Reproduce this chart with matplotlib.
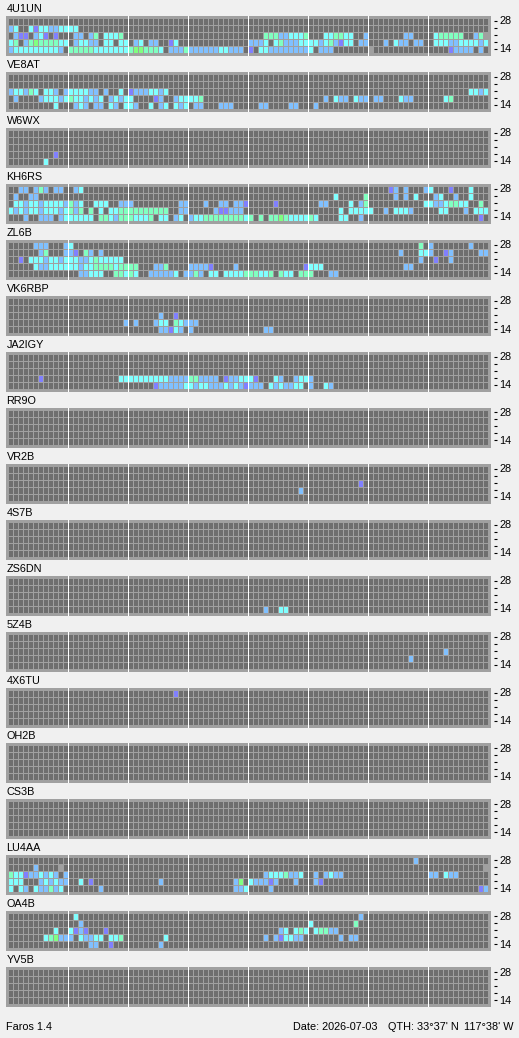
import matplotlib
matplotlib.use("Agg")
import matplotlib.pyplot as plt

# beacon stations, top to bottom
stations = ["4U1UN", "VE8AT", "W6WX", "KH6RS", "ZL6B", "VK6RBP", "JA2IGY", "RR9O", "VR2B",
            "4S7B", "ZS6DN", "5Z4B", "4X6TU", "OH2B", "CS3B", "LU4AA", "OA4B", "YV5B"]
band_labels = ["28", "", "", "", "14"]   # rows: 28, 24, 21, 18, 14 MHz

# 96 quarter-hour slots per row, grouped in 3 hour blocks
# . none  b/c/g/G/p signal levels  x no data
EMPTY = "............ ............ ............ ............ ............ ............ ............ ............"

u1un = [
    EMPTY,
    "bc..cpccbbcc cc.......... ............ ............ ............ ............ ............ ............",
    ".bpp.bcp.p.. .bb.bg.cccg ............ ............ ....gggbbccc g...ccggcc.. b.......bb.. ..cggggg..bg",
    "cg.bgGggggcc .bccbb.cc.cc .bc.bb..pc.. ............ bbbc.cgbbbcc ccbcgbpcc.bb ...b.cbb.bb. .cccbbccccbc",
    "bcccccccccb. gggggccccccc gGGgggc.bbbg bbbbbbccbbb. p.ccbbbbbbbb c.bbb....... x........... ....pbbbb.b.",
]
ve8at = [
    EMPTY,
    EMPTY,
    "bccbgc.ccb.b ccccbb.b..c. pbbbccbc.... ............ ............ ............ ............ ........ccbc",
    ".b....bcccbc gccbcbc.bcbc c....pb..bcc ccg......... ............ ...b.cbb.cbb .bb...cbb... ...cg.......",
    ".........c.. .bcb.bb.cb.c cb..c.bc.cbc .bb...bbb... ..bb....bb.. .b.......... ............ ............",
]
w6wx = [
    EMPTY,
    EMPTY,
    EMPTY,
    ".........p.. ............ ............ ............ ............ ............ ............ ............",
    ".......c.... ............ ............ ............ ............ ............ ............ ............",
]
kh6rs = [
    "..bb.bgb.bb. .bc......... ............ ............ ............ ............ ....pb.b...b c...p...c...",
    ".b..bb...... ............ ............ ............ ............ .....c.....g .....b.b.c.. .bc..b..c...",
    ".ccbccbccccb gbc..ccc..bb b.........bb ...b..bb.bbp .....p...... ..bb....c.bg ...........c cbbcggcc..g.",
    "cbcbccbcccbc gbg.g.c.ccgg gggggggg..bb .....bppbbb. ............ ......c.cccc c..b.cccb... ..cc...b.ccc",
    "...b..bbb.bc ccccc.ggcbgg gcccg.cc.bc. bccggggggggc g.g.ggGgcccc gc....cc..b. ............ ..........p.",
]
zl6b = [
    ".....bbb...b c........... ............ ............ ............ ............ ..........g. b.......b...",
    "......bg...b bp.gb.b..... ............ ............ ............ ............ ......b...cc b..pb.....bb",
    "..p.cccbccbc ccbbcgccccc. ............ ............ ............ ............ ..........b. .p..b.......",
    ".....cbbcccc ccbccggggcgg gg...bbg.... bbbbp....b.. ...........p ccc......... .......bb... ............",
    "............ ..bbccc..ggc gc..bbbbbc.b bgb.cc.ccccg ggccg.gcc.gg g...bb...... ............ ............",
]
vk6rbp = [
    EMPTY,
    EMPTY,
    "............ ............ ......b..p.. ............ ............ ............ ............ ............",
    "............ ...........b .b...bcc.gcb bb.......... ............ ............ ............ ............",
    "............ ............ ......bbpcb. b........... ...bb....... ............ ............ ............",
]
ja2igy = [
    EMPTY,
    EMPTY,
    EMPTY,
    "......p..... ..........cc ccccccccbbbb ggbbbb.pbbcc cp...cb..bcc b........... ............ ............",
    "............ ............ .....pbbbbbc cbccbbbcbcbp bbb.cbcbbcc. b..cb....... ............ ............",
]
rr9o = [EMPTY, EMPTY, EMPTY, EMPTY, EMPTY]
vr2b = [
    EMPTY,
    EMPTY,
    "............ ............ ............ ............ ............ ..........p. ............ ............",
    "............ ............ ............ ............ ..........b. ............ ............ ............",
    EMPTY,
]
s47b = [EMPTY, EMPTY, EMPTY, EMPTY, EMPTY]
zs6dn = [
    EMPTY,
    EMPTY,
    EMPTY,
    EMPTY,
    "............ ............ ............ ............ ...b..cc.... ............ ............ ............",
]
z54b = [
    EMPTY,
    EMPTY,
    "............ ............ ............ ............ ............ ............ ............ ...b........",
    "............ ............ ............ ............ ............ ............ ........b... ............",
    EMPTY,
]
x46tu = [
    "............ ............ .........p.. ............ ............ ............ ............ ............",
    EMPTY,
    EMPTY,
    EMPTY,
    EMPTY,
]
oh2b = [EMPTY, EMPTY, EMPTY, EMPTY, EMPTY]
cs3b = [EMPTY, EMPTY, EMPTY, EMPTY, EMPTY]
lu4aa = [
    "............ ............ ............ ............ ............ ............ .........b.. ............",
    ".....b....x. ............ ............ ............ ............ ............ ............ ...........x",
    "gccpbbcbcb.b ............ ............ ............ ...bcccgbbc. .b.bcbb..... ............ bb.cbb......",
    "ccc...bcbcbb ..c.p....... ......b..... .........bG. cbbbpb...b.. .bp......... ............ ............",
    "c.cb.cbbgbc. ......b..... ............ .........bbc ....b....... ............ ............ ..........pb",
]
oa4b = [
    "............ .c.......... ............ ............ ............ ..........b. ............ ............",
    "............ ..b......... ............ ............ ............ c........g.. ............ ............",
    ".........c.. cpbp...p.... ............ ............ ......bc.cgc .cggbb...... ............ ............",
    ".......cgGbb b.cbbcc.ccg. .......c.... ............ ...b.bpccbb. ......b.bb.. ............ ............",
    "............ ....bb..p... ......b..... ............ ............ ............ ............ ............",
]
yv5b = [EMPTY, EMPTY, EMPTY, EMPTY, EMPTY]

panels = [u1un, ve8at, w6wx, kh6rs, zl6b, vk6rbp, ja2igy, rr9o, vr2b,
          s47b, zs6dn, z54b, x46tu, oh2b, cs3b, lu4aa, oa4b, yv5b]

cell_colors = {
    ".": "#6e6e6e",
    "b": "#80c0ff",
    "c": "#80ffff",
    "g": "#80ffc0",
    "G": "#80ff80",
    "p": "#8080ff",
    "x": "#a0a0a0",
}

W, H = 519, 1038
plt.rcParams["font.family"] = ["Liberation Sans", "DejaVu Sans"]
fig = plt.figure(figsize=(W / 100, H / 100), dpi=100, facecolor="#f0f0f0")

fs = 7.8
for i, (name, rows) in enumerate(zip(stations, panels)):
    top = round(16 + 55.96 * i)
    ax = fig.add_axes([6 / W, 1 - (top + 40) / H, 485 / W, 40 / H])
    ax.set_facecolor("#a0a0a0")
    # 1 x unit = 5 px, 1 y unit = 7 px
    ax.set_xlim(-0.6, 96.4)
    ax.set_ylim(37 / 7, -3 / 7)
    for r, row in enumerate(rows):
        s = row.replace(" ", "")
        ax.bar(range(len(s)), 6 / 7, bottom=r, width=0.8, align="edge",
               color=[cell_colors[ch] for ch in s], linewidth=0, antialiased=False)
    for k in range(1, 8):
        ax.axvspan(12 * k - 0.2, 12 * k, color="white", lw=0, antialiased=False)

    for sp in ax.spines.values():
        sp.set_visible(False)
    ax.spines["right"].set_position(("outward", 2.2))
    ax.set_xticks([])
    ax.yaxis.tick_right()
    ax.set_yticks([r + 1.5 / 7 for r in range(5)])
    ax.set_yticklabels(band_labels, fontsize=fs)
    ax.tick_params(axis="y", length=2.4, width=0.8, pad=1.2, colors="black")

    fig.text(6.5 / W, 1 - (top - 4) / H, name, fontsize=fs, va="baseline", ha="left")

# footer
fig.text(6 / W, 1 - 1030.5 / H, "Faros 1.4", fontsize=fs, va="baseline", ha="left")
fig.text(293 / W, 1 - 1030.5 / H, "Date: 2026-07-03", fontsize=fs, va="baseline", ha="left")
fig.text(388 / W, 1 - 1030.5 / H, "QTH: 33°37' N", fontsize=fs, va="baseline", ha="left")
fig.text(513 / W, 1 - 1030.5 / H, "117°38' W", fontsize=fs, va="baseline", ha="right")

fig.savefig("out.png", dpi=100, facecolor=fig.get_facecolor())
